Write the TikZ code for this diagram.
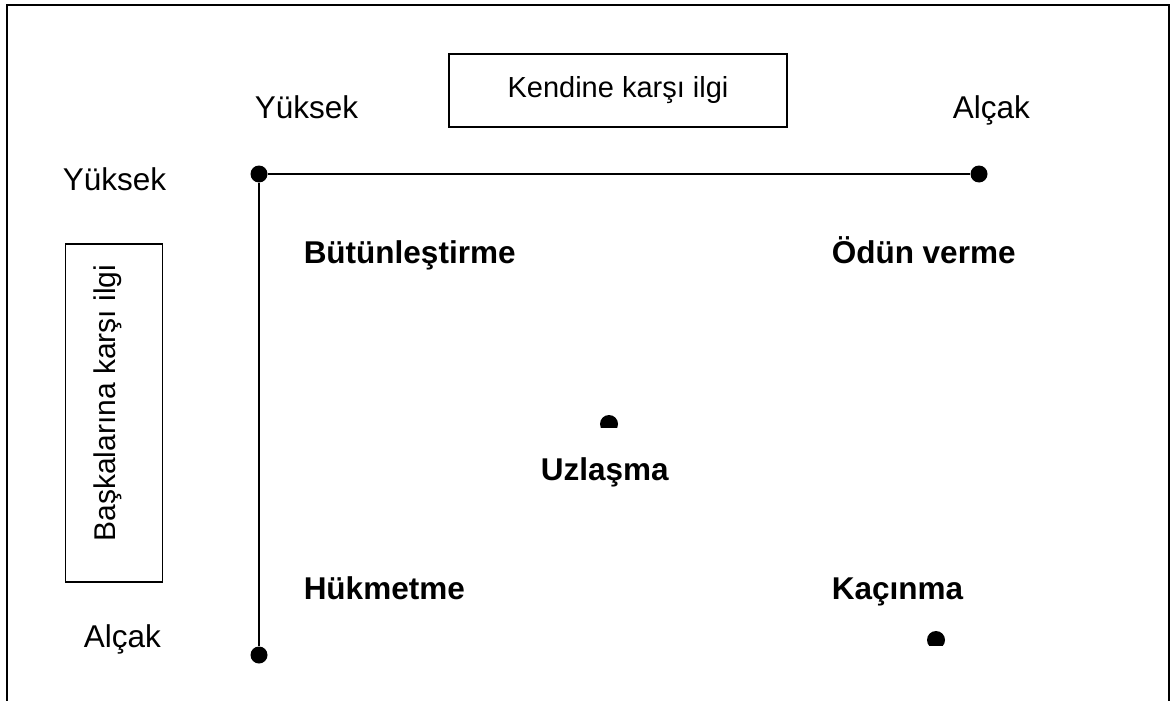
\documentclass[tikz,border=0pt]{standalone}
\usepackage{fontspec}
\setmainfont{Liberation Sans}
\usetikzlibrary{positioning}
\tikzset{
  dot/.style={circle,fill=black,inner sep=0pt,minimum size=17pt},
  lbl/.style={anchor=base west,inner sep=0pt,font=\fontsize{31.5}{38}\selectfont},
  strat/.style={lbl,font=\fontsize{31.5}{38}\selectfont\bfseries},
  kutu/.style={draw,line width=1.5pt,inner sep=0pt}
}
\begin{document}
\begin{tikzpicture}[x=1pt,y=-1pt,line width=1.5pt]
\useasboundingbox (0,0) rectangle (1175,701);
% outer frame, open at the bottom
\draw[line width=2pt] (7,701)--(7,5)--(1169,5)--(1169,701);

% axes
\node[dot] (hy) at (259,174) {};
\node[dot] (ha) at (979,174) {};
\node[dot] (la) at (259,655) {};
\draw (hy)--(ha);
\draw (hy)--(la);

% axis titles
\node[kutu,minimum width=338pt,minimum height=73pt,font=\fontsize{29}{35}\selectfont] (kendi) at (618,90.5) {Kendine karşı ilgi};
\node[kutu,minimum width=97pt,minimum height=338pt] (baska) at (114,413) {};
\node[lbl,anchor=base,rotate=90,font=\fontsize{30}{36}\selectfont] (baskat) at (115,403) {Başkalarına karşı ilgi};

\node[lbl] (yk1) at (254,118) {Yüksek};
\node[lbl] (al1) at (952,118) {Alçak};
\node[lbl] (yk2) at (62,190) {Yüksek};
\node[lbl] (al2) at (83,647) {Alçak};

% styles
\node[strat] (but) at (303,263) {Bütünleştirme};
\node[strat] (odun) at (831,263) {Ödün verme};
\node[strat] (uzl) at (540,480) {Uzlaşma};
\node[strat] (huk) at (303,599) {Hükmetme};
\node[strat] (kac) at (831,599) {Kaçınma};

\begin{scope}
\clip (0,0) rectangle (1175,427);
\node[dot,minimum size=18pt] (uzd) at (609,424) {};
\end{scope}
\begin{scope}
\clip (0,0) rectangle (1175,645);
\node[dot,minimum size=18pt] (kacd) at (936,640) {};
\end{scope}
\end{tikzpicture}
\end{document}
